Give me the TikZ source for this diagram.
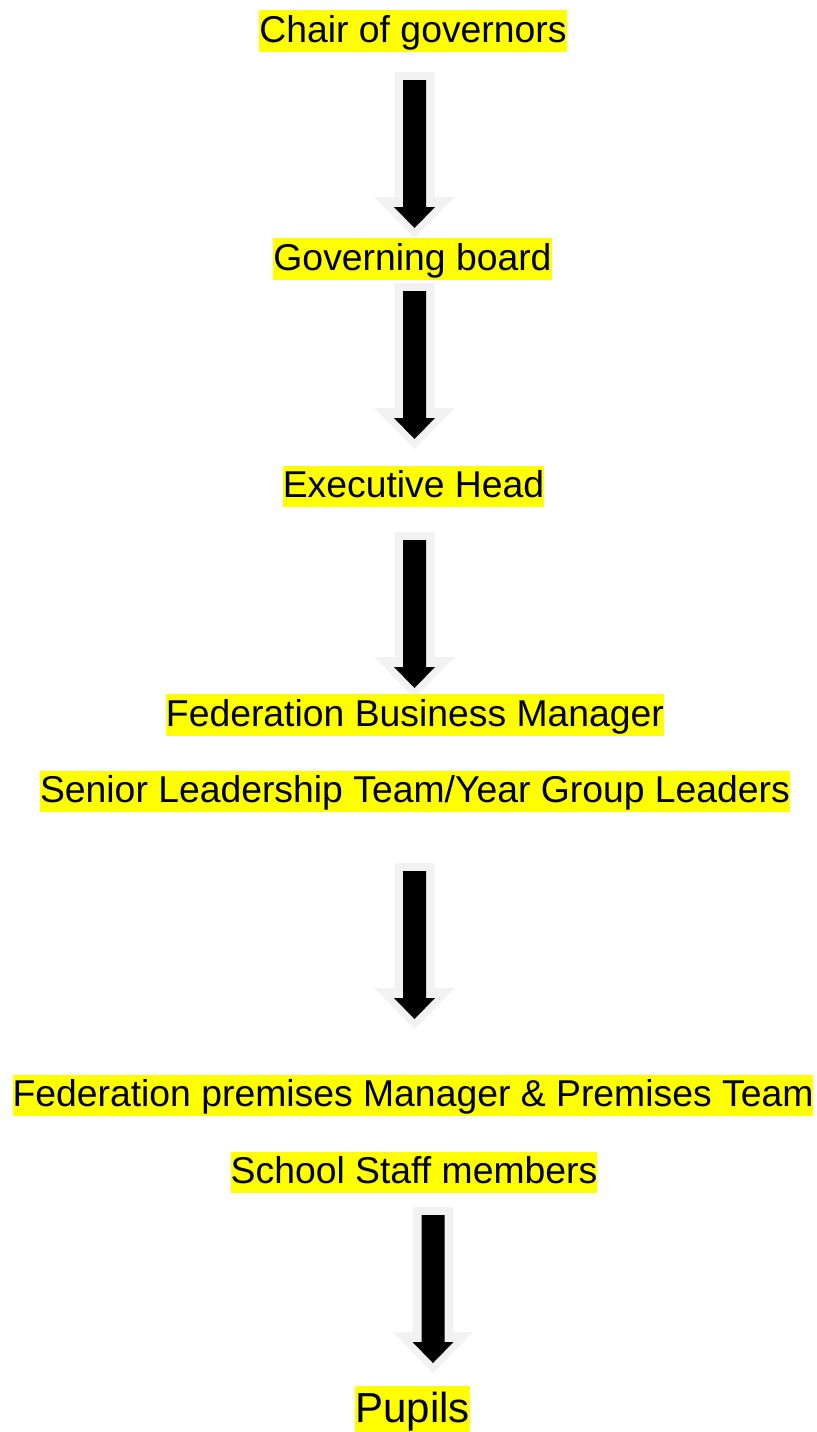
\documentclass[tikz,border=0pt]{standalone}
\usepackage{fontspec}
\setmainfont{Liberation Sans}
\definecolor{hl}{HTML}{FFFF00}
\definecolor{arrowglow}{HTML}{F2F2F2}
% block arrow: #1 = centre x, #2 = top y (pixels)
\newcommand{\blockarr}[2]{%
  \fill[arrowglow] (#1-20,#2) -- (#1+20,#2) -- (#1+20,#2+125) -- (#1+40,#2+125)
    -- (#1,#2+166) -- (#1-40,#2+125) -- (#1-20,#2+125) -- cycle;
  \fill[black] (#1-11.5,#2+8) -- (#1+11.5,#2+8) -- (#1+11.5,#2+135) -- (#1+20.5,#2+135)
    -- (#1,#2+156) -- (#1-20.5,#2+135) -- (#1-11.5,#2+135) -- cycle;
}
\begin{document}
\begin{tikzpicture}[x=0.75pt,y=-0.75pt,
  label/.style={fill=hl,inner xsep=0pt,inner ysep=0pt,text height=24pt,text depth=7.3pt,
    font=\fontsize{28}{34}\selectfont},
  biglabel/.style={label,text height=27pt,text depth=8.2pt,font=\fontsize{31.5}{38}\selectfont}]
\useasboundingbox (0,0) rectangle (817,1432);
% arrows
\blockarr{414.5}{72}
\blockarr{414.5}{283}
\blockarr{414.5}{532}
\blockarr{414.5}{863}
\blockarr{433}{1207}
% labels
\node[label] (chair) at (413,31) {Chair of governors};
\node[label] (board) at (412.5,259) {Governing board};
\node[label] (exec) at (413.5,486.5) {Executive Head};
\node[label] (fbm) at (415,715) {Federation Business Manager};
\node[label] (slt) at (415,791.5) {Senior Leadership Team/Year Group Leaders};
\node[label] (fpm) at (413,1095.5) {Federation premises Manager \& Premises Team};
\node[label] (staff) at (414,1172.5) {School Staff members};
\node[biglabel] (pupils) at (412.5,1409.5) {Pupils};
\end{tikzpicture}
\end{document}
